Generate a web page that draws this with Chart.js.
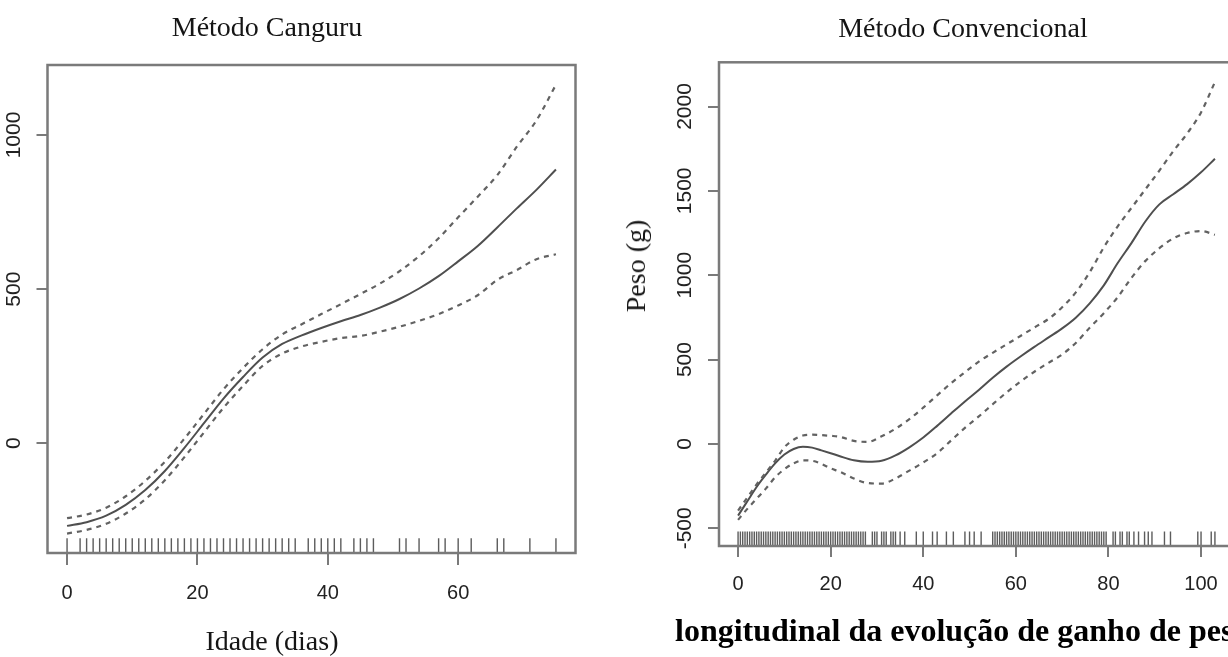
<!DOCTYPE html>
<html>
<head>
<meta charset="utf-8">
<script src="https://cdn.jsdelivr.net/npm/chart.js@4.4.1/dist/chart.umd.min.js"></script>
<style>
  html, body { margin: 0; padding: 0; background: #fff; overflow: hidden; width: 1228px; height: 657px; }
  #wrap { position: relative; width: 1228px; height: 657px; overflow: hidden; }
  canvas { position: absolute; top: 0; }
  #cvCanguru { left: 0; }
  #cvConv { left: 614px; }
  .txt { position: absolute; font-family: 'Liberation Serif', 'Times New Roman', serif; color: #151515; line-height: 1; white-space: nowrap; }
</style>
</head>
<body>
<div id="wrap">
  <canvas id="cvCanguru" width="614" height="657" style="width:614px;height:657px"></canvas>
  <canvas id="cvConv" width="660" height="657" style="width:660px;height:657px"></canvas>

  <div class="txt" style="font-size:28px;left:267px;top:12.5px;transform:translateX(-50%)">Método Canguru</div>
  <div class="txt" style="font-size:28px;left:963px;top:13.5px;transform:translateX(-50%)">Método Convencional</div>
  <div class="txt" style="font-size:28px;left:272px;top:626.5px;transform:translateX(-50%)">Idade (dias)</div>
  <div class="txt" style="font-size:28px;left:635.5px;top:266px;transform:translate(-50%,-50%) rotate(-90deg)">Peso (g)</div>
  <div class="txt" style="font-size:32px;font-weight:bold;left:675px;top:613.9px;color:#000">longitudinal da evolução de ganho de peso</div>
</div>

<script>
// ---- Método Canguru: ajuste suavizado do peso (g) por idade (dias) ----
const canguruDias   = [0, 3, 6, 9, 12, 15, 18, 21, 24, 27, 30, 33, 36, 39, 42, 45, 48, 51, 54, 57, 60, 63, 66, 69, 72, 75];
const canguruAjuste = [-268, -256, -235, -200, -152, -90, -15, 65, 145, 215, 278, 322, 350, 374, 396, 416, 440, 468, 502, 542, 590, 640, 700, 762, 822, 888];
const canguruSup    = [-243, -231, -209, -172, -122, -60, 15, 95, 175, 244, 305, 353, 386, 419, 451, 484, 518, 558, 607, 665, 733, 800, 870, 962, 1047, 1163];
const canguruInf    = [-293, -281, -261, -228, -182, -120, -45, 35, 115, 186, 251, 291, 314, 329, 341, 348, 362, 378, 397, 419, 447, 480, 530, 562, 597, 613];
const canguruRug    = [0, 2, 3, 4, 5, 6, 7, 8, 9, 10, 11, 12, 13, 14, 15, 16, 17, 18, 19, 20, 21, 22, 23, 24, 25,
                       26, 27, 28, 29, 30, 31, 32, 33, 34, 35, 37, 38, 39, 40, 41, 42, 44, 45, 46, 47,
                       51, 52, 54, 57, 58, 60, 62, 66, 67, 71, 75];
const canguruTicksX = [0, 20, 40, 60];
const canguruTicksY = [0, 500, 1000];

// ---- Método Convencional ----
const convDias   = [0, 2, 4, 6, 8, 10, 12, 14, 16, 18, 20, 22, 25, 28, 31, 34, 37, 40, 43, 46, 49, 52, 55, 58, 61, 64, 67, 70, 73, 76, 79, 82, 85, 88, 91, 94, 97, 100, 103];
const convAjuste = [-425, -340, -255, -182, -115, -63, -30, -17, -22, -38, -55, -73, -97, -106, -100, -68, -20, 38, 107, 180, 252, 320, 392, 458, 518, 575, 630, 685, 750, 835, 940, 1072, 1192, 1320, 1420, 1480, 1540, 1610, 1690];
const convSup    = [-395, -318, -240, -170, -100, -20, 25, 50, 55, 52, 48, 42, 18, 12, 45, 90, 147, 215, 288, 360, 425, 488, 540, 590, 640, 690, 740, 810, 900, 1020, 1165, 1290, 1400, 1510, 1620, 1735, 1840, 1965, 2145];
const convInf    = [-450, -385, -325, -265, -198, -150, -115, -97, -100, -118, -145, -165, -205, -232, -235, -205, -158, -110, -55, 20, 95, 163, 235, 305, 370, 428, 480, 530, 600, 690, 775, 870, 985, 1085, 1160, 1218, 1250, 1262, 1240];
const convRug    = [0, 0.5, 1, 1.5, 2, 2.5, 3, 3.5, 4, 4.5, 5, 5.5, 6, 6.5, 7, 7.5, 8, 8.5, 9, 9.5, 10, 10.5, 11, 11.5, 12, 12.5,
                    13, 13.5, 14, 14.5, 15, 15.5, 16, 16.5, 17, 17.5, 18, 18.5, 19, 19.5, 20, 20.5, 21, 21.5, 22, 22.5,
                    23, 23.5, 24, 24.5, 25, 25.5, 26, 26.5, 27, 27.5,
                    29, 29.5, 30, 31, 31.5, 32, 33, 33.5, 34, 35, 36,
                    38.5, 40, 42, 43, 45, 46.5, 49, 50, 51, 52.5,
                    55, 55.5, 56, 56.5, 57, 57.5, 58, 58.5, 59, 59.5, 60, 60.5, 61, 61.5, 62, 62.5, 63, 63.5, 64, 64.5,
                    65, 65.5, 66, 66.5, 67, 67.5, 68, 68.5, 69, 69.5, 70, 70.5, 71, 71.5, 72, 72.5, 73, 73.5, 74, 74.5,
                    75, 75.5, 76, 76.5, 77, 77.5, 78, 78.5, 79, 79.5,
                    81, 81.5, 82.5, 83, 84, 84.5, 85.5, 86.5, 87.8, 88.6, 89.4, 92.1, 93.4, 99.3, 100, 102.2, 103];
const convTicksX = [0, 20, 40, 60, 80, 100];
const convTicksY = [-500, 0, 500, 1000, 1500, 2000];

const X_TICK_FONT = { family: "'Liberation Sans', Arial, Helvetica, sans-serif", size: 20 };
const Y_TICK_FONT = { family: "'Liberation Sans', Arial, Helvetica, sans-serif", size: 21 };
const TICK_COLOR = '#222222';
const AXIS_COLOR = '#7a7a7a';

function curve(xs, ys, dashed) {
  return {
    data: xs.map((x, i) => ({ x: x, y: ys[i] })),
    borderColor: dashed ? '#626262' : '#4f4f4f',
    borderWidth: dashed ? 2.2 : 2,
    borderDash: dashed ? [5, 5] : [],
    pointRadius: 0,
    tension: 0.4,
    cubicInterpolationMode: 'monotone',
    fill: false
  };
}

function panel(canvasId, p) {
  // box around the plot region plus the rug of observed ages along the bottom
  const frameRug = {
    id: 'frameRug',
    afterDatasetsDraw(chart) {
      const { ctx, chartArea: a } = chart;
      const xs = chart.scales.x;
      const h = (a.bottom - a.top) * 0.03;
      ctx.save();
      ctx.beginPath();
      p.rug.forEach(d => {
        const px = xs.getPixelForValue(d);
        ctx.moveTo(px, a.bottom);
        ctx.lineTo(px, a.bottom - h);
      });
      ctx.strokeStyle = '#5c5c5c';
      ctx.lineWidth = 1.4;
      ctx.stroke();
      ctx.strokeStyle = AXIS_COLOR;
      ctx.lineWidth = 2.5;
      ctx.strokeRect(a.left, a.top, a.right - a.left, a.bottom - a.top);
      ctx.restore();
    }
  };

  return new Chart(document.getElementById(canvasId), {
    type: 'line',
    data: {
      datasets: [
        curve(p.dias, p.sup, true),
        curve(p.dias, p.inf, true),
        curve(p.dias, p.ajuste, false)
      ]
    },
    options: {
      responsive: false,
      animation: false,
      events: [],
      layout: { padding: p.padding },
      plugins: { legend: { display: false }, tooltip: { enabled: false }, title: { display: false } },
      scales: {
        x: {
          type: 'linear',
          min: p.xMin, max: p.xMax,
          afterBuildTicks: s => { s.ticks = p.ticksX.map(v => ({ value: v })); },
          afterFit: s => { s.height = p.xAxisHeight; },
          border: { display: false },
          grid: { drawOnChartArea: false, drawTicks: true, tickLength: p.xTickLen, color: AXIS_COLOR, lineWidth: 2 },
          ticks: { padding: p.xTickPad, color: TICK_COLOR, font: X_TICK_FONT, autoSkip: false, minRotation: 0, maxRotation: 0,
                   callback: v => String(v) }
        },
        y: {
          type: 'linear',
          min: p.yMin, max: p.yMax,
          afterBuildTicks: s => { s.ticks = p.ticksY.map(v => ({ value: v })); },
          afterFit: s => { s.width = p.yAxisWidth; },
          border: { display: false },
          grid: { drawOnChartArea: false, drawTicks: true, tickLength: 11, color: AXIS_COLOR, lineWidth: 2 },
          ticks: { padding: p.yTickPad, color: TICK_COLOR, font: Y_TICK_FONT, autoSkip: false, minRotation: 90, maxRotation: 90,
                   crossAlign: 'center', callback: v => String(v) }
        }
      }
    },
    plugins: [frameRug]
  });
}

panel('cvCanguru', {
  dias: canguruDias, ajuste: canguruAjuste, sup: canguruSup, inf: canguruInf, rug: canguruRug,
  ticksX: canguruTicksX, ticksY: canguruTicksY,
  xMin: -3, xMax: 78, yMin: -356, yMax: 1227,
  padding: { top: 65, right: 38.5, bottom: 0, left: 0 },
  yAxisWidth: 47.5, xAxisHeight: 104, xTickLen: 12, xTickPad: 16, yTickPad: -0.85
});

panel('cvConv', {
  dias: convDias, ajuste: convAjuste, sup: convSup, inf: convInf, rug: convRug,
  ticksX: convTicksX, ticksY: convTicksY,
  xMin: -4.12, xMax: 107.12, yMin: -605, yMax: 2262,
  padding: { top: 62.3, right: 40, bottom: 0, left: 0 },
  yAxisWidth: 105, xAxisHeight: 111, xTickLen: 11, xTickPad: 15, yTickPad: -0.35
});
</script>
</body>
</html>
